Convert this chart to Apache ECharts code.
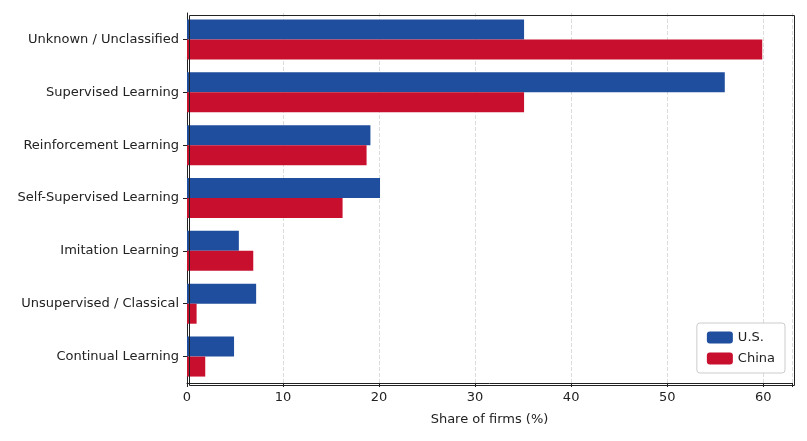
<!DOCTYPE html>
<html>
<head>
<meta charset="utf-8">
<script src="https://cdn.jsdelivr.net/npm/echarts@6/dist/echarts.min.js"></script>
<style>html,body{margin:0;padding:0;background:#fff}#chart{width:807px;height:441px}</style>
</head>
<body>
<div id="chart"></div>
<script>
// categories listed top to bottom
var categories = ['Unknown / Unclassified', 'Supervised Learning', 'Reinforcement Learning',
    'Self-Supervised Learning', 'Imitation Learning', 'Unsupervised / Classical', 'Continual Learning'];
var usValues = [35.1, 56.0, 19.1, 20.1, 5.4, 7.2, 4.9];
var chinaValues = [59.9, 35.1, 18.7, 16.2, 6.9, 1.0, 1.9];
var xTicks = [0, 10, 20, 30, 40, 50, 60];

var chart = echarts.init(document.getElementById('chart'));
var font = 'DejaVu Sans';

chart.setOption({
    animation: false,
    textStyle: { fontFamily: font },
    grid: { left: 187, right: 15, top: 13, bottom: 58 },
    legend: {
        orient: 'vertical', right: 22, bottom: 68,
        itemWidth: 26, itemHeight: 12, itemGap: 8,
        backgroundColor: '#fff', borderColor: '#ccc', borderWidth: 1, borderRadius: 3,
        padding: [8, 10],
        textStyle: { fontSize: 13, color: '#222', fontFamily: font },
        data: ['U.S.', 'China']
    },
    xAxis: {
        type: 'value', min: 0, max: 63, interval: 10,
        name: 'Share of firms (%)', nameLocation: 'middle', nameGap: 30,
        nameTextStyle: { fontSize: 13, color: '#222' },
        axisLine: { show: true, lineStyle: { color: '#222' } },
        axisTick: { show: true, length: 4, lineStyle: { color: '#222' } },
        axisLabel: {
            fontSize: 13, color: '#222',
            formatter: function (v) { return xTicks.indexOf(v) >= 0 ? String(v) : ''; }
        },
        splitLine: { show: true, lineStyle: { type: 'dashed', color: '#ddd' } }
    },
    yAxis: {
        type: 'category', data: categories, inverse: true,
        axisLine: { show: true, lineStyle: { color: '#222' } },
        axisTick: { show: true, alignWithLabel: true, length: 4, lineStyle: { color: '#222' } },
        axisLabel: { fontSize: 13, color: '#222', margin: 8 }
    },
    series: [
        { name: 'U.S.', type: 'bar', data: usValues, barWidth: 20, barGap: '0%',
          itemStyle: { color: '#1f4e9e' } },
        { name: 'China', type: 'bar', data: chinaValues, barWidth: 20,
          itemStyle: { color: '#c8102e' } }
    ],
    graphic: [{
        type: 'rect', left: 187, top: 13, z: 100, silent: true,
        shape: { width: 605, height: 370 },
        style: { fill: 'none', stroke: '#222', lineWidth: 1 }
    }]
});
</script>
</body>
</html>
